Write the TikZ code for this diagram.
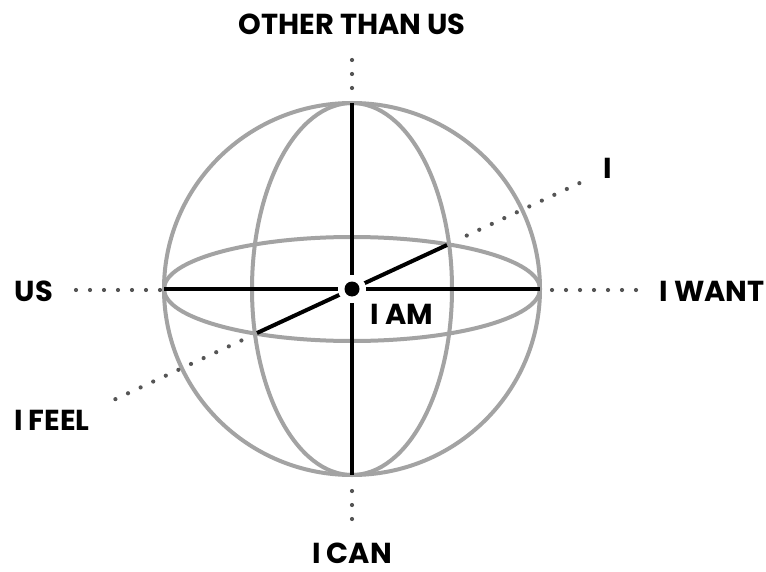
\documentclass[tikz,border=0pt]{standalone}
\usepackage{fontspec}
\setmainfont{Poppins}
\usetikzlibrary{calc}
\definecolor{sph}{HTML}{A3A3A3}
\definecolor{dotc}{HTML}{555555}
\begin{document}
\begin{tikzpicture}[x=1bp,y=-1bp,
  sphline/.style={draw=sph,line width=4bp},
  axis/.style={draw=black,line width=4bp},
  dotmark/.style={fill=dotc,draw=none},
  lbl/.style={font=\fontsize{29}{34}\selectfont\bfseries,text=black,inner sep=0pt}]
\path[use as bounding box,fill=white] (0,0) rectangle (766,572);
\coordinate (C) at (352,289);
% axes
\coordinate (T) at (352,103);
\coordinate (B) at (352,475);
\coordinate (L) at (164,289);
\coordinate (R) at (540,289);
\coordinate (DU) at (447,245);
\coordinate (DL) at (257,333);
% sphere
\draw[sphline] (C) circle [x radius=188, y radius=186];
\draw[sphline] (C) ellipse [x radius=100, y radius=186];
\draw[sphline] (C) ellipse [x radius=188, y radius=52];
\draw[axis] (T) -- (B);
\draw[axis] (L) -- (R);
\draw[axis] (DL) -- (DU);
\fill[white] (C) circle (14);
\fill[black] (C) circle (7.5);
% dotted guides
\foreach \i in {0,...,6} {
  \fill[dotmark] ({76+14*\i},290) circle (2.1);
  \fill[dotmark] ({552+14*\i},290) circle (2.1);
}
\foreach \i in {0,1,2} {
  \fill[dotmark] (352,{60+14*\i}) circle (2.1);
  \fill[dotmark] (352,{491+14*\i}) circle (2.1);
}
\foreach \i in {0,...,9} {
  \fill[dotmark] ($(C)+({(126.6+13.8*\i)*0.9065},{-(126.6+13.8*\i)*0.422})$) circle (2.1);
}
\foreach \i in {0,...,10} {
  \fill[dotmark] ($(C)+({-(122+13.9*\i)*0.9065},{(122+13.9*\i)*0.422})$) circle (2.1);
}
% labels
\node[lbl] (other) at (352,24) {OTHER THAN US};
\node[lbl] (i) at (608,168) {I};
\node[lbl] (us) at (34,291) {US};
\node[lbl] (want) at (712,291) {I WANT};
\node[lbl] (am) at (402,314) {I AM};
\node[lbl] (feel) at (52,420) {I FEEL};
\node[lbl,anchor=base] (can) at (352,563) {I CAN};
\end{tikzpicture}
\end{document}
